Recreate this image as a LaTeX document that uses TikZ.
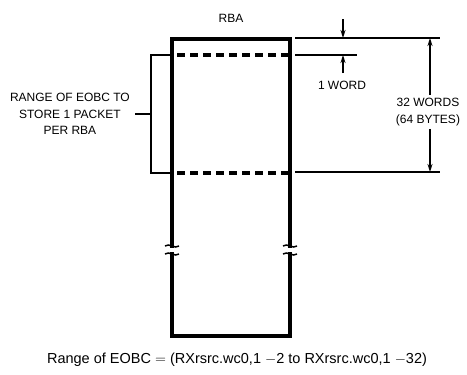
\documentclass[tikz,border=0pt]{standalone}
\usepackage{fontspec}
\setmainfont{Liberation Sans}
\usetikzlibrary{arrows.meta,calc}
\begin{document}
\begin{tikzpicture}[x=1pt,y=-1pt,
  thick box/.style={line width=3.6pt},
  dashline/.style={line width=3.2pt,dash pattern=on 8pt off 5pt},
  thin/.style={line width=1.3pt},
  dimarrow/.style={line width=1.3pt,-{Stealth[length=8pt,width=5pt]}},
  lbl/.style={font=\fontsize{12}{16.5}\selectfont,inner sep=0pt,align=center},
  brk/.style={line width=1.5pt}]
\useasboundingbox (0,0) rectangle (467,375);
% RBA box
\coordinate (tl) at (172,39);
\coordinate (tr) at (290,39);
\coordinate (bl) at (172,336);
\coordinate (br) at (290,336);
\coordinate (lb1) at (172,246);
\coordinate (lb2) at (172,254);
\coordinate (rb1) at (290,246);
\coordinate (rb2) at (290,254);
\draw[thick box,line cap=rect] (lb1) -- (tl) -- (tr) -- (rb1);
\draw[thick box,line cap=rect] (lb2) -- (bl) -- (br) -- (rb2);
% break marks
\foreach \p in {lb1,rb1}{
  \draw[brk] ($(\p)+(-7,0)$) .. controls ($(\p)+(-3,-3.5)$) and ($(\p)+(3,3.5)$) .. ($(\p)+(7,0)$);
}
\foreach \p in {lb2,rb2}{
  \draw[brk] ($(\p)+(-7,0)$) .. controls ($(\p)+(-3,-3.5)$) and ($(\p)+(3,3.5)$) .. ($(\p)+(7,0)$);
}
\node[lbl] (rba) at (231,18) {RBA};
% dashed lines
\draw[dashline] (177,55) -- (288,55);
\draw[dashline] (177,173) -- (288,173);
% bracket
\coordinate (bt) at (151,55);
\coordinate (bb) at (151,173);
\coordinate (bm) at (151,114);
\coordinate (bk) at (135,114);
\draw[line width=2.5pt] (172,55) -- (bt) -- (bb) -- (172,173);
\draw[line width=2.5pt] (bm) -- (bk);
\node[lbl,anchor=east] (range) at (130,114) {RANGE OF EOBC TO\\STORE 1 PACKET\\PER RBA};
% right dimension lines
\coordinate (e1a) at (295,38);
\coordinate (e1b) at (440,38);
\coordinate (e2a) at (295,55);
\coordinate (e2b) at (357,55);
\coordinate (e3a) at (295,172);
\coordinate (e3b) at (440,172);
\draw[thin] (e1a) -- (e1b);
\draw[thin] (e2a) -- (e2b);
\draw[thin] (e3a) -- (e3b);
% 1 word arrows
\coordinate (w1) at (343,19);
\coordinate (w1e) at (343,38);
\coordinate (w2) at (343,73);
\coordinate (w2e) at (343,55);
\draw[dimarrow] (w1) -- (w1e);
\draw[dimarrow] (w2) -- (w2e);
\node[lbl] (oneword) at (342,85) {1 WORD};
% 32 words
\node[lbl] (words) at (428,112) {32 WORDS\\(64 BYTES)};
\coordinate (v1) at (430,38);
\coordinate (v2) at (430,172);
\draw[dimarrow] ($(words.north -| v1)+(0,-3)$) -- (v1);
\draw[dimarrow] ($(words.south -| v2)+(0,3)$) -- (v2);
% caption
\node[inner sep=0pt,font=\fontsize{14.5}{16}\selectfont] (cap) at (237,360) {Range of EOBC $=$ (RXrsrc.wc0,1 $-$2 to RXrsrc.wc0,1 $-$32)};
\end{tikzpicture}
\end{document}
